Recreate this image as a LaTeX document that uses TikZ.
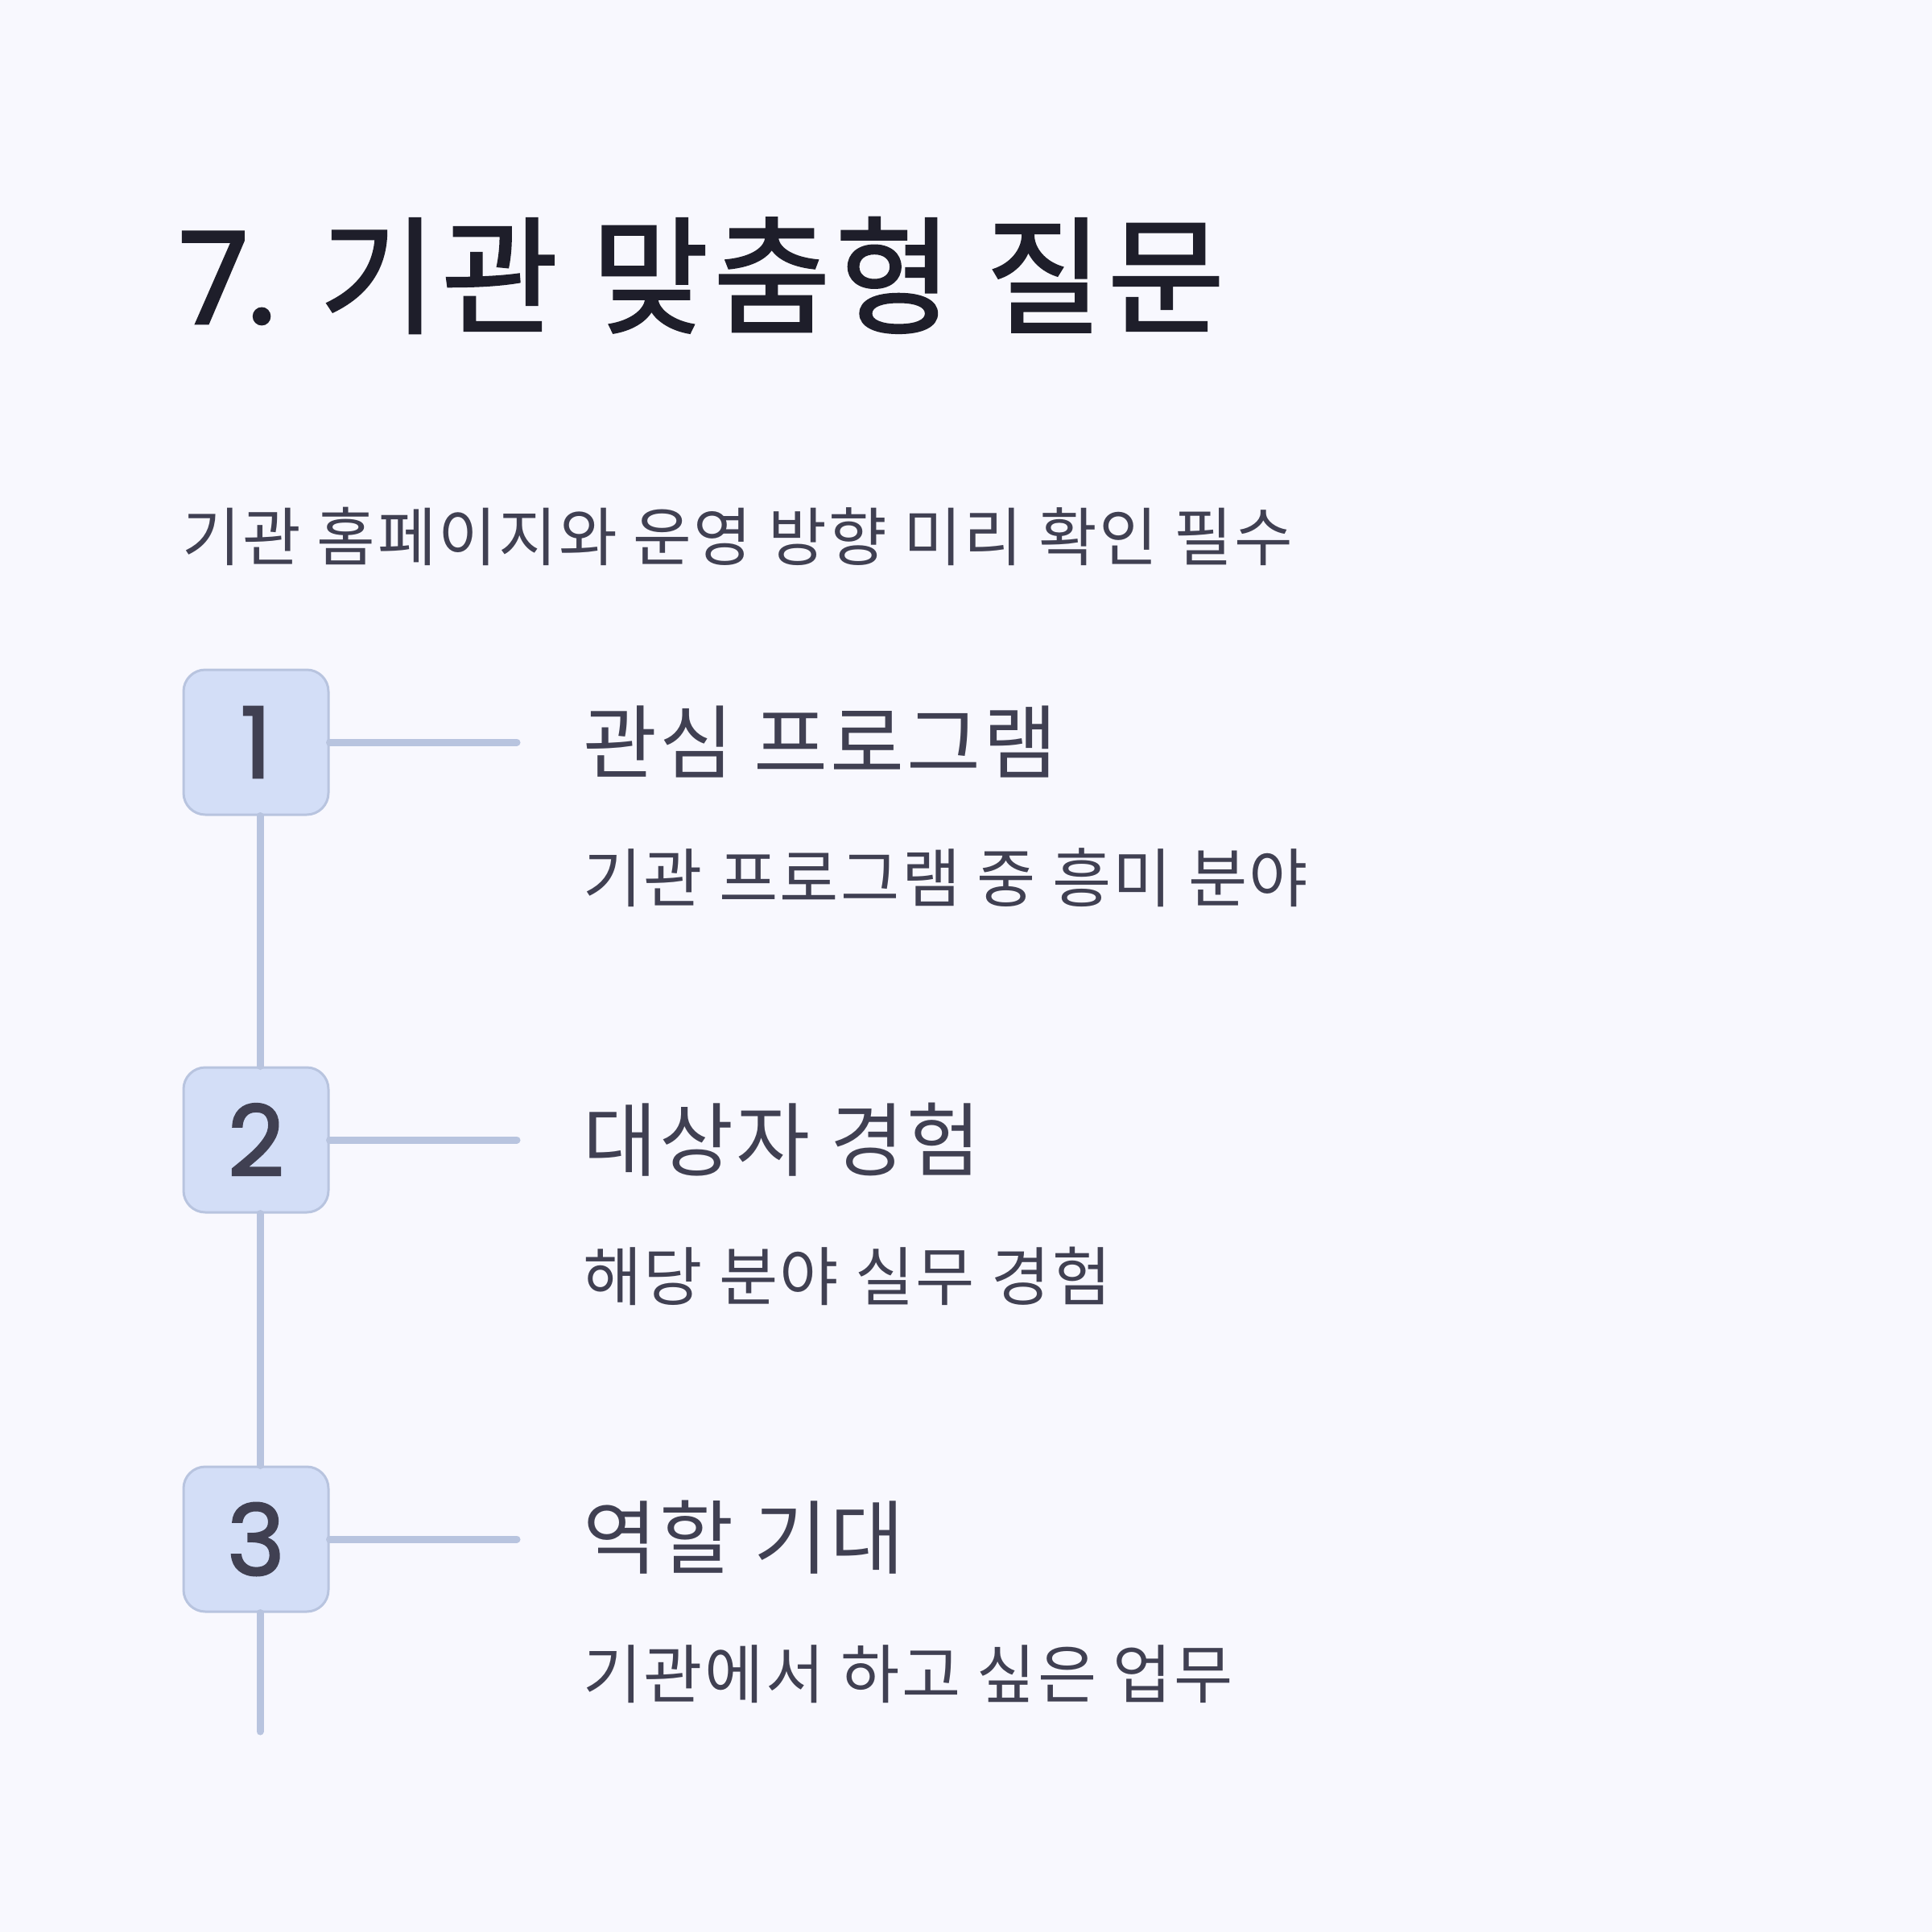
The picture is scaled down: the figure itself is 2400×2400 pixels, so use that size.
\documentclass[tikz,border=0pt]{standalone}
\usepackage{fontspec}
\setmainfont{Noto Sans CJK KR}[LetterSpace=3]
\newfontfamily\titlefont{Noto Sans CJK KR}[FakeBold=1.6, LetterSpace=3.8]
\newfontfamily\numfont{Poppins}[FakeBold=2]
\usepackage{tikz}
\usetikzlibrary{positioning}
\definecolor{bgcol}{HTML}{F8F8FE}
\definecolor{boxfill}{HTML}{D3DEF7}
\definecolor{boxline}{HTML}{B8C4DF}
\definecolor{titlecol}{HTML}{1E1E2A}
\definecolor{textcol}{HTML}{404052}

\begin{document}
\begin{tikzpicture}[x=1pt, y=-1pt,
    stepnum/.style={draw=boxline, line width=3pt, fill=boxfill, rounded corners=27pt,
        minimum size=180pt, inner sep=0pt, text=textcol,
        font=\numfont\fontsize{122}{122}\selectfont},
    head/.style={anchor=west, inner sep=0pt, text=textcol, font=\fontsize{100}{120}\selectfont},
    desc/.style={anchor=west, inner sep=0pt, text=textcol, font=\fontsize{79.6}{96}\selectfont},
    link/.style={boxline, line width=9pt, line cap=round}]

% Fond

\fill[bgcol] (0,0) rectangle (2400,2400);
\useasboundingbox (0,0) rectangle (2400,2400);

% Títol

\node[anchor=west, inner sep=0pt, text=titlecol, font=\titlefont\fontsize{158}{180}\selectfont]
    (title) at (222,342) {{\numfont 7.} 기관 맞춤형 질문};

\node[desc, font=\fontsize{79}{96}\selectfont] (sub) at (226,666) {기관 홈페이지와 운영 방향 미리 확인 필수};

% Línia vertical

\coordinate (tail) at (323,2151);
\node[stepnum] (box1) at (318,922) {1};
\node[stepnum] (box2) at (318,1416) {2};
\node[stepnum] (box3) at (318,1912) {3};

\draw[link] ([xshift=5pt]box1.south) -- ([xshift=5pt]box2.north);
\draw[link] ([xshift=5pt]box2.south) -- ([xshift=5pt]box3.north);
\draw[link] ([xshift=5pt]box3.south) -- (tail);

% Branques

\coordinate (tick1) at (642,922);
\coordinate (tick2) at (642,1416);
\coordinate (tick3) at (642,1912);

\draw[link] (box1.east) -- (tick1);
\draw[link] (box2.east) -- (tick2);
\draw[link] (box3.east) -- (tick3);

% Textos

\node[head] (head1) at (724,921) {관심 프로그램};
\node[desc] (desc1) at (724,1090) {기관 프로그램 중 흥미 분야};

\node[head] (head2) at (724,1416) {대상자 경험};
\node[desc] (desc2) at (724,1585) {해당 분야 실무 경험};

\node[head] (head3) at (724,1910) {역할 기대};
\node[desc] (desc3) at (724,2080) {기관에서 하고 싶은 업무};

\end{tikzpicture}
\end{document}
